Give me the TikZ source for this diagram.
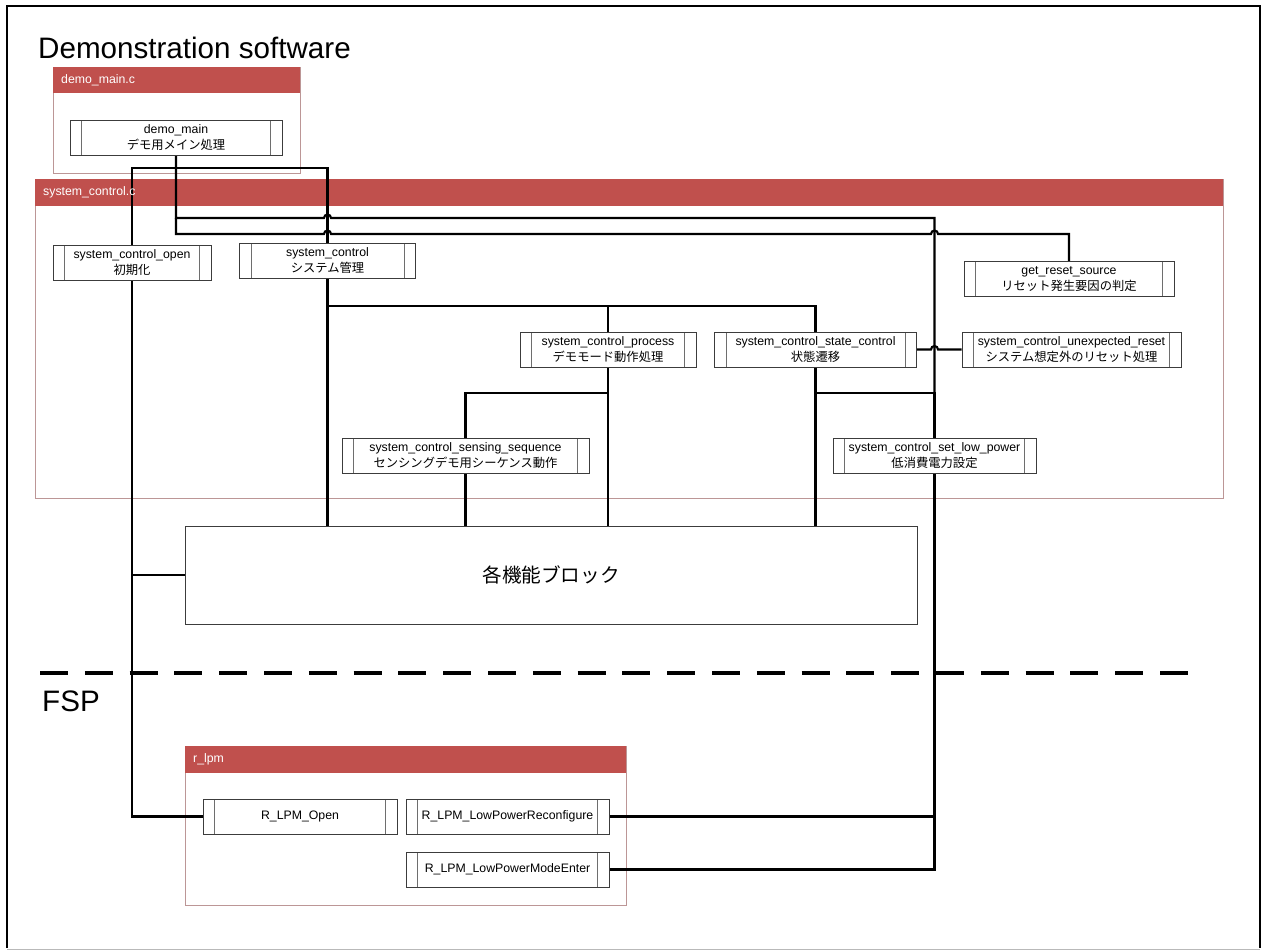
\documentclass[tikz,border=0pt]{standalone}
\usepackage{fontspec}
\setmainfont{Liberation Sans}
\newfontfamily\jpfont{Noto Sans CJK JP}
\usetikzlibrary{calc}

\definecolor{hdrred}{HTML}{C0504D}
\definecolor{frameln}{HTML}{BC9696}
\definecolor{boxln}{HTML}{3C3C3C}
\definecolor{barln}{HTML}{6E6E6E}

\newcommand{\ja}[1]{{\jpfont #1}}

\pgfdeclarelayer{frames}
\pgfdeclarelayer{lines}
\pgfsetlayers{frames,lines,main}

\tikzset{
	conn/.style={line width=2.1, black},
	procbox/.style={draw=boxln, fill=white, line width=0.9, minimum height=35, inner sep=0,
		align=center, font=\fontsize{12.3}{16}\selectfont,
		path picture={
			\draw[barln, line width=0.9] ([xshift=11.5]path picture bounding box.north west) -- ([xshift=11.5]path picture bounding box.south west);
			\draw[barln, line width=0.9] ([xshift=-11.5]path picture bounding box.north east) -- ([xshift=-11.5]path picture bounding box.south east);
		}},
	blockbox/.style={draw=boxln, fill=white, line width=0.9, minimum width=732, minimum height=98,
		font=\jpfont\fontsize{19.6}{22}\selectfont},
	grpframe/.style={draw=frameln, line width=0.9, fill=white},
	grptitle/.style={anchor=west, inner sep=0, text=white, font=\fontsize{12.3}{14}\selectfont},
	bigtitle/.style={anchor=base west, inner sep=0, font=\fontsize{29.6}{32}\selectfont},
}

\begin{document}
\begin{tikzpicture}[x=1pt, y=-1pt]

	\useasboundingbox (0,0) rectangle (1261,950);

	%outer frame
	\draw[line width=2] (7,948) -- (7,6) -- (1260,6) -- (1260,948);
	\draw[gray!55, line width=1] (7,949) -- (1260,949);

	\node[bigtitle] (tdemo) at (38,59) {Demonstration software};
	\node[bigtitle] (tfsp) at (42,711) {FSP};

	%source files
	\begin{pgfonlayer}{frames}
		\draw[grpframe] (53,67) rectangle (300,173);
		\fill[hdrred] (53,67) rectangle (300,93);
		\draw[grpframe] (35,179) rectangle (1223,498);
		\fill[hdrred] (35,179) rectangle (1223,206);
		\draw[grpframe] (185,746) rectangle (626,905);
		\fill[hdrred] (185,746) rectangle (626,772.5);
	\end{pgfonlayer}
	\node[grptitle] (hdemo) at (61,80) {demo\_main.c};
	\node[grptitle] (hsys) at (43,192.5) {system\_control.c};
	\node[grptitle] (hlpm) at (193,759) {r\_lpm};

	%functions
	\node[procbox, minimum width=212] (dmain) at (176,138) {demo\_main\\\ja{デモ用メイン処理}};
	\node[procbox, minimum width=158] (scopen) at (132,263) {system\_control\_open\\\ja{初期化}};
	\node[procbox, minimum width=176] (sctrl) at (327.5,261) {system\_control\\\ja{システム管理}};
	\node[procbox, minimum width=210] (getrst) at (1069,279) {get\_reset\_source\\\ja{リセット発生要因の判定}};
	\node[procbox, minimum width=176] (scproc) at (608,349.5) {system\_control\_process\\\ja{デモモード動作処理}};
	\node[procbox, minimum width=202] (scstate) at (815.5,349.5) {system\_control\_state\_control\\\ja{状態遷移}};
	\node[procbox, minimum width=219] (unexp) at (1071.5,349.5) {system\_control\_unexpected\_reset\\\ja{システム想定外のリセット処理}};
	\node[procbox, minimum width=247] (sensing) at (465.5,455.5) {system\_control\_sensing\_sequence\\\ja{センシングデモ用シーケンス動作}};
	\node[procbox, minimum width=203] (lowpow) at (934.5,455.5) {system\_control\_set\_low\_power\\\ja{低消費電力設定}};
	\node[blockbox] (blocks) at (551,575) {各機能ブロック};
	\node[procbox, minimum width=194] (rlopen) at (300,816.5) {R\_LPM\_Open};
	\node[procbox, minimum width=203] (rlrecfg) at (507.5,816.5) {R\_LPM\_LowPowerReconfigure};
	\node[procbox, minimum width=203] (rlenter) at (507.5,869.5) {R\_LPM\_LowPowerModeEnter};

	%boundary between demo code and FSP
	\draw[line width=4, dash pattern=on 28pt off 16.8pt] (40,673) -- (1188,673);

	%call lines
	\coordinate (topbus) at (0,168);
	\coordinate (busA) at (0,218);
	\coordinate (busB) at (0,234);
	\coordinate (midbus) at (0,306);
	\coordinate (lowbus) at (0,393);
	\begin{pgfonlayer}{lines}
		\draw[conn] (scopen.north) -- (scopen.north |- topbus) -| (sctrl.north);
		\draw[conn] (scopen.south) |- (rlopen.west);
		\draw[conn] (scopen.south |- blocks.west) -- (blocks.west);
		\draw[conn] (dmain.south) -- (dmain.south |- busA) -- ($(sctrl.north |- busA)+(-3.5,0)$)
			arc[start angle=180, end angle=0, radius=3.5pt] -| (lowpow.north);
		\draw[conn] (dmain.south |- busA) -- (dmain.south |- busB) -- ($(sctrl.north |- busB)+(-3.5,0)$)
			arc[start angle=180, end angle=0, radius=3.5pt] -- ($(lowpow.north |- busB)+(-3.5,0)$)
			arc[start angle=180, end angle=0, radius=3.5pt] -| (getrst.north);
		\draw[conn] (sctrl.south) -- (sctrl.south |- blocks.north);
		\draw[conn] (sctrl.south |- midbus) -| (scproc.north);
		\draw[conn] (scproc.north |- midbus) -| (scstate.north);
		\draw[conn] (scproc.south) -- (scproc.south |- blocks.north);
		\draw[conn] (scproc.south |- lowbus) -| (sensing.north);
		\draw[conn] (sensing.south) -- (sensing.south |- blocks.north);
		\draw[conn] (scstate.south) -- (scstate.south |- blocks.north);
		\draw[conn] (scstate.south |- lowbus) -| (lowpow.north);
		\draw[conn] (scstate.east) -- ($(lowpow.north |- scstate.east)+(-3.5,0)$)
			arc[start angle=180, end angle=0, radius=3.5pt] -- (unexp.west);
		\draw[conn] (lowpow.south) |- (rlrecfg.east);
		\draw[conn] (lowpow.south) |- (rlenter.east);
	\end{pgfonlayer}

\end{tikzpicture}
\end{document}
